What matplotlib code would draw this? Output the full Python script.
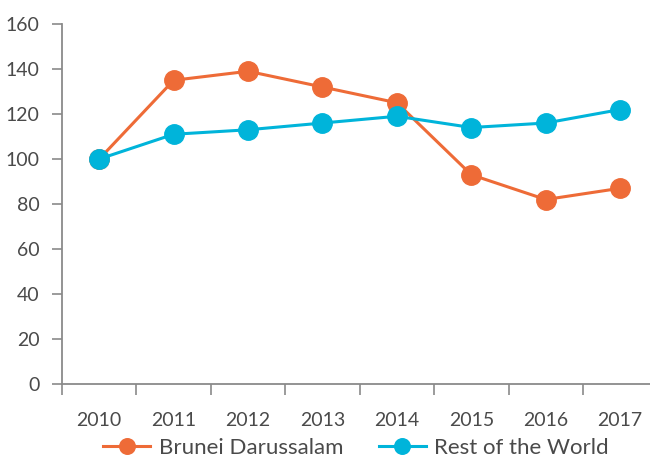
import numpy as np
import matplotlib.pyplot as plt
from matplotlib.ticker import FixedLocator

plt.rcParams["font.family"] = ["Lato", "DejaVu Sans"]

# datos
years = ["2010", "2011", "2012", "2013", "2014", "2015", "2016", "2017"]
brunei = [100, 135, 139, 132, 125, 93, 82, 87]
rest_world = [100, 111, 113, 116, 119, 114, 116, 122]

orange = "#EE6B37"
blue = "#00B4DA"
txt = "#4a4a4a"
axis_col = "#8a8a8a"

fig = plt.figure(figsize=(6.5, 4.62), dpi=100)
ax = fig.add_axes([0.0954, 0.1688, 0.916, 0.7792])

x = np.arange(len(years))
ax.plot(x, brunei, "-o", color=orange, lw=2.2, ms=14, label="Brunei Darussalam")
ax.plot(x, rest_world, "-o", color=blue, lw=2.2, ms=14, label="Rest of the World")

ax.set_xlim(-0.5, len(years) - 0.5)
ax.set_ylim(0, 160)
ax.set_yticks(range(0, 161, 20))
ax.set_xticks(x)
ax.set_xticklabels(years)
ax.xaxis.set_minor_locator(FixedLocator(np.arange(-0.5, len(years), 1.0)))

for s in ["top", "right"]:
    ax.spines[s].set_visible(False)
for s in ["left", "bottom"]:
    ax.spines[s].set_color(axis_col)
    ax.spines[s].set_linewidth(1.3)

ax.tick_params(axis="y", length=7, width=1.2, color=axis_col, labelsize=14,
               labelcolor=txt, pad=9)
ax.tick_params(axis="x", which="major", length=0, labelsize=14,
               labelcolor=txt, pad=20)
ax.tick_params(axis="x", which="minor", length=8, width=1.2, color=axis_col)

fig.legend(loc="lower center", bbox_to_anchor=(0.548, -0.035), ncol=2,
           frameon=False, fontsize=16, labelcolor=txt, handlelength=2.1,
           columnspacing=1.6, handletextpad=0.4, markerscale=0.8)

plt.savefig("out.png", dpi=100)
